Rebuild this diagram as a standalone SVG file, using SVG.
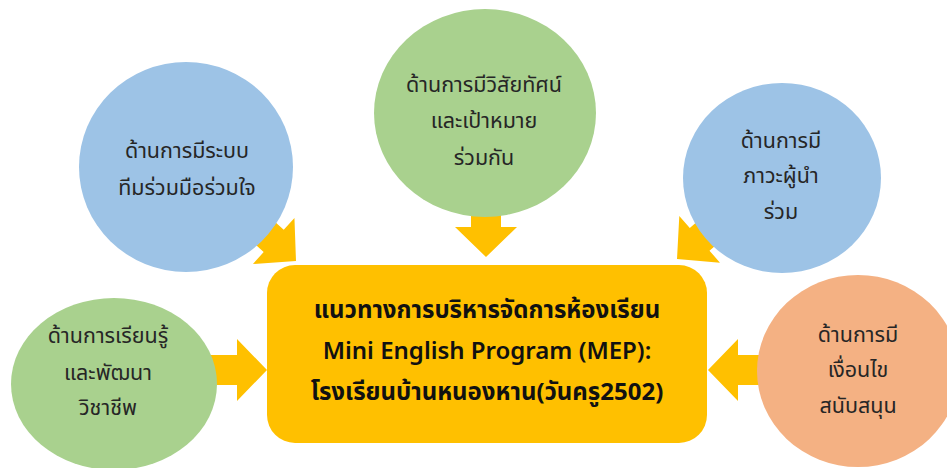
<svg xmlns="http://www.w3.org/2000/svg" width="947" height="468" viewBox="0 0 947 468">
<defs>
<style>
.blue{fill:#9DC3E6}
.green{fill:#A9D18E}
.orange{fill:#F4B183}
.arrow{fill:#FFC000}
.lbl{font-family:"Noto Sans","Noto Sans Thai",Tahoma,sans-serif;font-size:21.5px;fill:#262626;text-anchor:middle}
.main{font-family:"Noto Sans","Noto Sans Thai",Tahoma,sans-serif;font-size:24px;font-weight:bold;fill:#111;text-anchor:middle}
</style>
<polygon id="arr" points="-80,-15 -30,-15 -30,-31 0,0 -30,31 -30,15 -80,15"/>
</defs>
<rect width="947" height="468" fill="#ffffff"/>
<g id="connectors" class="arrow">
<use href="#arr" transform="translate(267,370)"/>
<use href="#arr" transform="translate(708,370) rotate(180)"/>
<use href="#arr" transform="translate(486,257) rotate(90)"/>
<use href="#arr" transform="translate(296,261) rotate(42)"/>
<use href="#arr" transform="translate(677,259) rotate(139)"/>
</g>
<g id="center">
<rect x="267" y="265" width="440" height="178" rx="28" fill="#FFC000"/>
<text class="main" x="487" y="318">แนวทางการบริหารจัดการห้องเรียน</text>
<text class="main" x="487" y="359" style="font-weight:600">Mini English Program (MEP):</text>
<text class="main" x="487" y="400">โรงเรียนบ้านหนองหาน(วันครู2502)</text>
</g>
<g id="n1">
<ellipse class="blue" cx="186" cy="167" rx="107" ry="105"/>
<text class="lbl" x="187" y="158">ด้านการมีระบบ</text>
<text class="lbl" x="187" y="195">ทีมร่วมมือร่วมใจ</text>
</g>
<g id="n2">
<ellipse class="green" cx="485" cy="113" rx="111" ry="104"/>
<text class="lbl" x="484" y="92">ด้านการมีวิสัยทัศน์</text>
<text class="lbl" x="484" y="128">และเป้าหมาย</text>
<text class="lbl" x="484" y="165">ร่วมกัน</text>
</g>
<g id="n3">
<ellipse class="blue" cx="782" cy="178" rx="99" ry="95"/>
<text class="lbl" x="781" y="148">ด้านการมี</text>
<text class="lbl" x="781" y="183">ภาวะผู้นำ</text>
<text class="lbl" x="781" y="219">ร่วม</text>
</g>
<g id="n4">
<ellipse class="green" cx="114" cy="384" rx="103" ry="86"/>
<text class="lbl" x="108" y="343">ด้านการเรียนรู้</text>
<text class="lbl" x="108" y="380">และพัฒนา</text>
<text class="lbl" x="108" y="415">วิชาชีพ</text>
</g>
<g id="n5">
<ellipse class="orange" cx="858" cy="371" rx="101" ry="96"/>
<text class="lbl" x="858" y="342">ด้านการมี</text>
<text class="lbl" x="858" y="377">เงื่อนไข</text>
<text class="lbl" x="858" y="413">สนับสนุน</text>
</g>
</svg>
